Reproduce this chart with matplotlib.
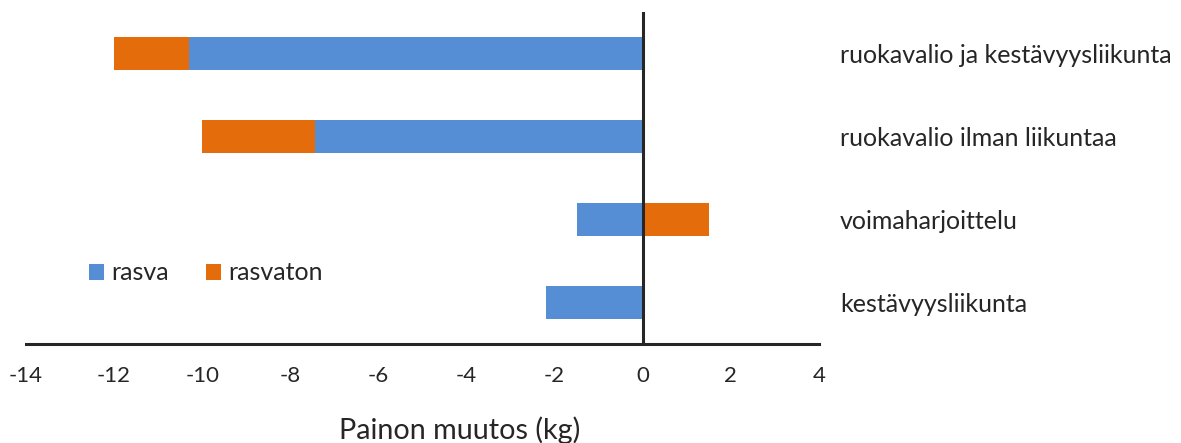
import numpy as np
import matplotlib.pyplot as plt

# Painon muutos eri interventioissa, rasva / rasvaton massa (kg)
ryhmat = ["ruokavalio ja kestävyysliikunta", "ruokavalio ilman liikuntaa",
          "voimaharjoittelu", "kestävyysliikunta"]
rasva = [-10.3, -7.45, -1.5, -2.2]
rasvaton = [-1.7, -2.55, 1.5, 0.0]
xticks = [-14, -12, -10, -8, -6, -4, -2, 0, 2, 4]

plt.rcParams['font.family'] = ['Lato', 'DejaVu Sans']

sininen = '#558ed5'
oranssi = '#e46c0a'
teksti = '#262626'

fig = plt.figure(figsize=(11.81, 4.43), dpi=100)
W, H = 1181, 443
ax = fig.add_axes([26 / W, 99 / H, (819 - 26) / W, (344 - 12) / H])

# ylin ryhmä ylös
y = np.arange(len(ryhmat))[::-1]
rasva = np.array(rasva)
rasvaton = np.array(rasvaton)

# rasvaton jatkuu rasvan päästä samaan suuntaan, muuten nollasta
alku = np.where(np.sign(rasvaton) == np.sign(rasva), rasva, 0)
ax.barh(y, rasva, height=0.4, color=sininen, label='rasva')
ax.barh(y, rasvaton, left=alku, height=0.4, color=oranssi, label='rasvaton')

ax.set_xlim(-14, 4)
ax.set_ylim(-0.5, 3.5)
ax.set_xticks(xticks)
ax.set_xticklabels([str(t) for t in xticks])
ax.tick_params(axis='x', length=0, pad=16, labelsize=16, labelcolor=teksti)

ax.set_yticks(y)
ax.set_yticklabels(ryhmat)
ax.yaxis.tick_right()
ax.tick_params(axis='y', length=0, pad=15, labelsize=18, labelcolor=teksti)

for s in ['top', 'right', 'left']:
    ax.spines[s].set_visible(False)
ax.spines['bottom'].set_linewidth(2.2)
ax.spines['bottom'].set_color(teksti)
ax.axvline(0, color=teksti, lw=2.2, zorder=3)

ax.legend(ncol=2, frameon=False, loc='center left',
          bbox_to_anchor=(89 / W, 1 - 273 / H), bbox_transform=fig.transFigure,
          handlelength=0.6, handleheight=0.6, handletextpad=0.28,
          columnspacing=1.5, borderpad=0, borderaxespad=0,
          fontsize=18, labelcolor=teksti)

fig.text(460 / W, 1 - 430 / H, 'Painon muutos (kg)', ha='center', va='center',
         fontsize=20.7, color=teksti)

fig.savefig('out.png', dpi=100)
